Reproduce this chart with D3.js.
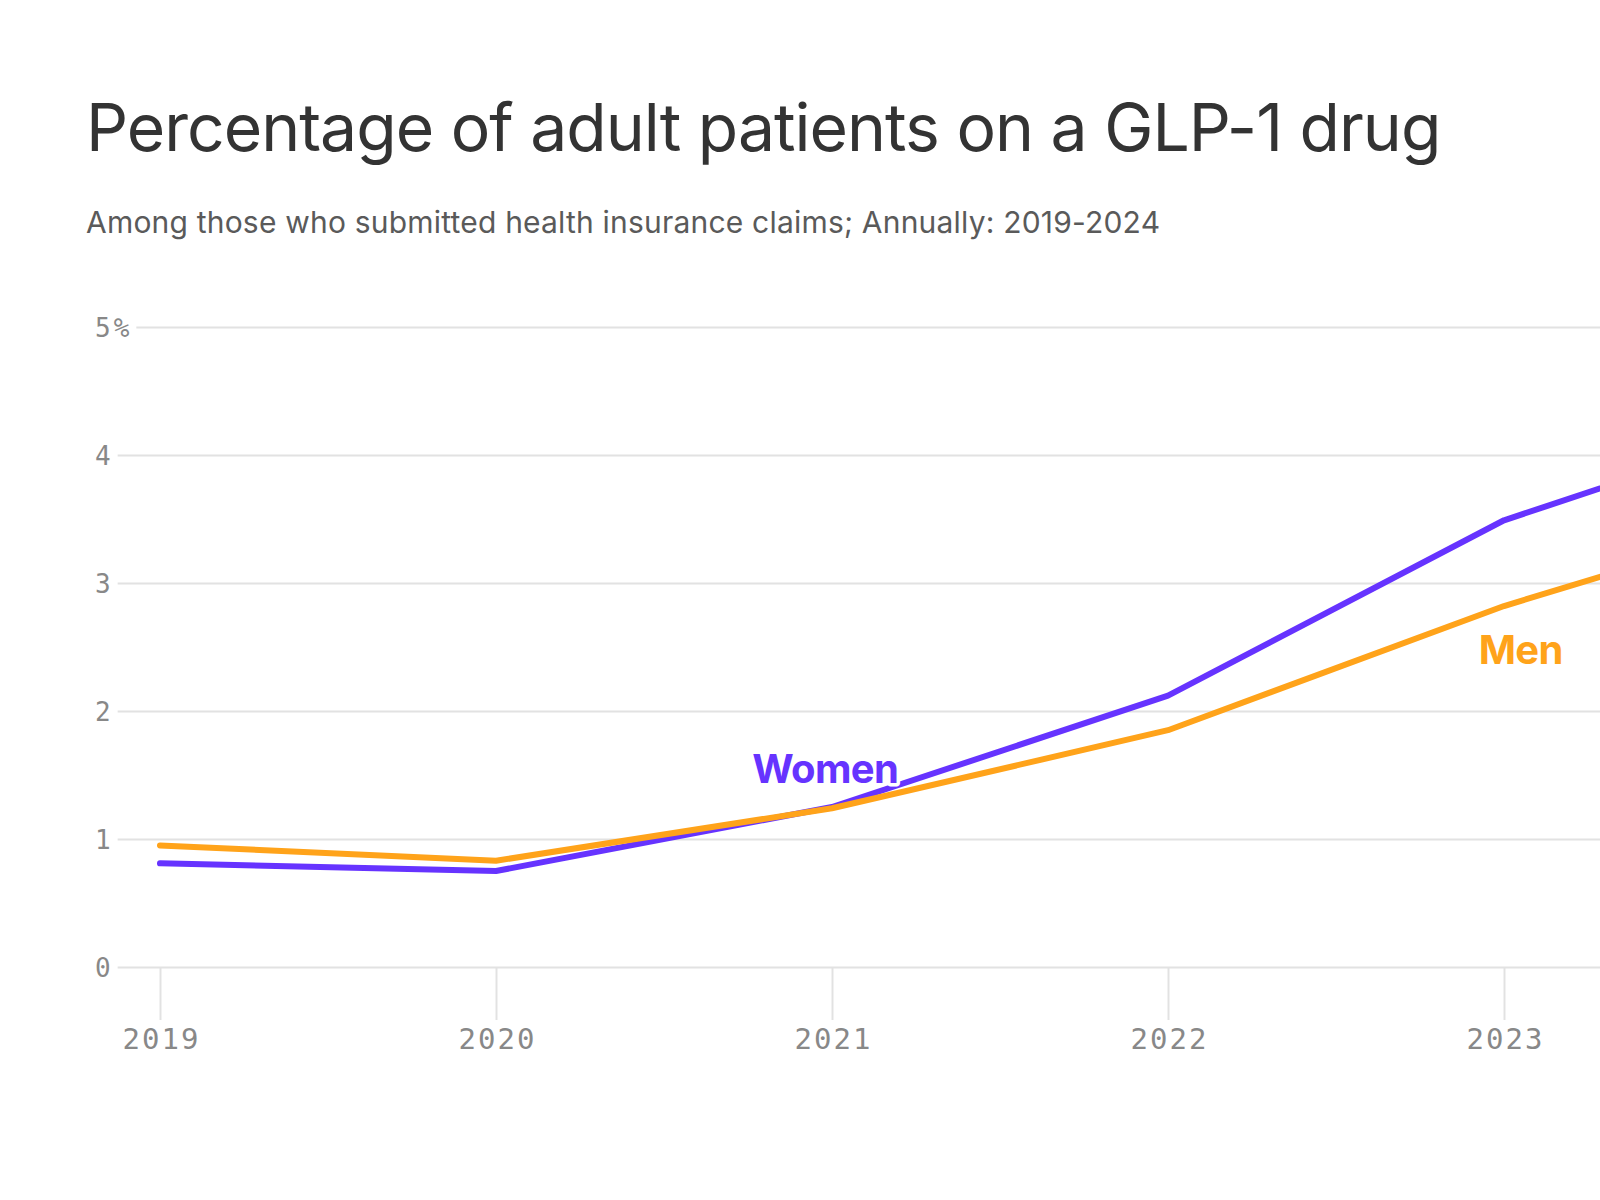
<!DOCTYPE html>
<html>
<head>
<meta charset="utf-8">
<script src="https://cdn.jsdelivr.net/npm/d3@7"></script>
<style>
  html, body { margin: 0; padding: 0; background: #fff; }
  svg { display: block; }
</style>
</head>
<body>
<svg id="chart" width="1600" height="1200"></svg>
<script>
// ---- data ----
const years = [2019, 2020, 2021, 2022, 2023, 2024];
const women = [0.81, 0.75, 1.25, 2.12, 3.49, 4.36];
const men   = [0.95, 0.83, 1.24, 1.85, 2.82, 3.62];
const yTicks = [0, 1, 2, 3, 4, 5];
const titleText = "Percentage of adult patients on a GLP-1 drug";
const subtitleText = "Among those who submitted health insurance claims; Annually: 2019-2024";

const W = 1600, H = 1200;
const svg = d3.select("#chart");

const x = d3.scaleLinear().domain([2019, 2024]).range([160, 1840]);
const y = d3.scaleLinear().domain([0, 5]).range([967, 327]);

const sans = "Inter, 'Noto Sans', sans-serif";
const mono = "'DejaVu Sans Mono', monospace";

// title
svg.append("text").attr("x", 86).attr("y", 151)
  .attr("font-family", sans).attr("font-size", 66).attr("fill", "#333")
  .attr("letter-spacing", "-1px")
  .text(titleText);
svg.append("text").attr("x", 86).attr("y", 233)
  .attr("font-family", sans).attr("font-size", 30).attr("fill", "#5a5a5a")
  .attr("letter-spacing", "0.2px")
  .text(subtitleText);

// y axis with gridlines
const yAxis = svg.append("g")
  .call(d3.axisRight(y).tickValues(yTicks).tickSize(0)
        .tickFormat(d => d === 5 ? "5%" : d3.format("d")(d)));
yAxis.select(".domain").remove();
yAxis.selectAll(".tick text")
  .attr("x", 95).attr("dy", "0.36em")
  .attr("text-anchor", "start")
  .attr("font-family", mono).attr("font-size", 26).attr("fill", "#888")
  .attr("letter-spacing", "3px");
yAxis.selectAll(".tick").each(function() {
  const t = d3.select(this);
  const w = t.select("text").node().getComputedTextLength();
  t.insert("line", "text").attr("x1", 95 + w + 4).attr("x2", W)
    .attr("stroke", "#e2e2e2").attr("stroke-width", 2);
});

// x axis
const xAxis = svg.append("g").attr("transform", `translate(0,${y(0)})`)
  .call(d3.axisBottom(x).tickValues(years).tickSize(53).tickPadding(8)
        .tickFormat(d3.format("d")));
xAxis.select(".domain").remove();
xAxis.selectAll(".tick line").attr("stroke", "#e2e2e2").attr("stroke-width", 2);
xAxis.selectAll(".tick text")
  .attr("font-family", mono).attr("font-size", 29).attr("fill", "#888")
  .attr("letter-spacing", "2px").attr("dx", "1px");

// lines
const line = d3.line().x((d, i) => x(years[i])).y(d => y(d));
svg.append("path").datum(women).attr("d", line)
  .attr("fill", "none").attr("stroke", "#6633ff").attr("stroke-width", 6)
  .attr("stroke-linejoin", "round").attr("stroke-linecap", "round");
svg.append("path").datum(men).attr("d", line)
  .attr("fill", "none").attr("stroke", "#ffa31a").attr("stroke-width", 6)
  .attr("stroke-linejoin", "round").attr("stroke-linecap", "round");

// labels
const labels = [
  { text: "Women", year: 2020.98, val: 1.44, color: "#6633ff" },
  { text: "Men", year: 2023.05, val: 2.37, color: "#ffa31a" }
];
svg.selectAll("text.lbl").data(labels).join("text")
  .attr("class", "lbl")
  .attr("x", d => x(d.year)).attr("y", d => y(d.val))
  .attr("text-anchor", "middle")
  .attr("font-family", sans).attr("font-weight", 700).attr("font-size", 40)
  .attr("letter-spacing", "-0.6px")
  .attr("fill", d => d.color)
  .attr("stroke", "#fff").attr("stroke-width", 7).attr("paint-order", "stroke")
  .attr("stroke-linejoin", "round")
  .text(d => d.text);
</script>
</body>
</html>
